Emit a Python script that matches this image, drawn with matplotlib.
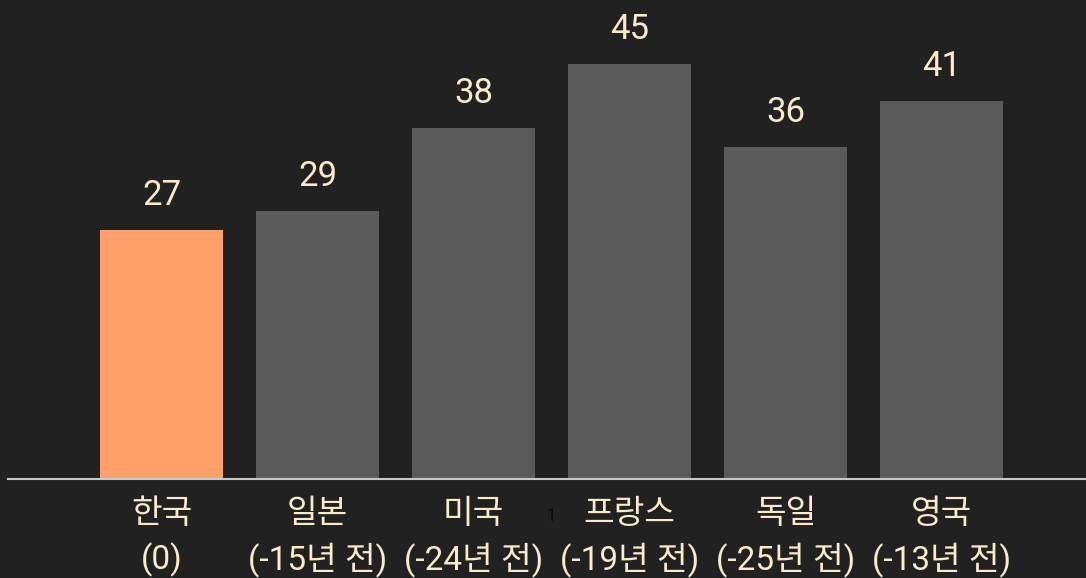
import matplotlib.pyplot as plt

plt.rcParams['font.family'] = ['Roboto', 'Noto Sans CJK KR', 'DejaVu Sans']

countries = ['한국', '일본', '미국', '프랑스', '독일', '영국']
years_behind = ['(0)', '(-15년 전)', '(-24년 전)', '(-19년 전)', '(-25년 전)', '(-13년 전)']
values = [27, 29, 38, 45, 36, 41]

bg = '#212121'
text_color = '#FBEBC8'
bar_colors = ['#FFA06A'] + ['#5A5A5A'] * (len(values) - 1)

fig = plt.figure(figsize=(10.86, 5.78), dpi=100, facecolor=bg)
ax = fig.add_axes([8 / 1086, 99 / 578, 1 - 8 / 1086, 479 / 578])
ax.set_facecolor(bg)

x = list(range(len(values)))
bars = ax.bar(x, values, width=0.79, color=bar_colors)

for b, v in zip(bars, values):
    ax.annotate(str(v), (b.get_x() + b.get_width() / 2, v),
                xytext=(0, 18), textcoords='offset points',
                ha='center', va='baseline', fontsize=25, color=text_color)

ax.set_xlim(-0.984, 5.926)
ax.set_ylim(0, 51.9)

labels = [f'{c}\n{y}' for c, y in zip(countries, years_behind)]
ax.set_xticks(x)
ax.set_xticklabels(labels, fontsize=24, color=text_color, linespacing=1.45)
ax.tick_params(axis='x', length=0, pad=14)
ax.set_yticks([])

for s in ['top', 'right', 'left']:
    ax.spines[s].set_visible(False)
ax.spines['bottom'].set_color('#C8C8C8')
ax.spines['bottom'].set_linewidth(1.5)

# stray page number
fig.text(551 / 1086, 1 - 516 / 578, '1', fontsize=14, color='#0A0A0A',
         ha='center', va='center')

fig.savefig('out.png', dpi=100, facecolor=bg)
